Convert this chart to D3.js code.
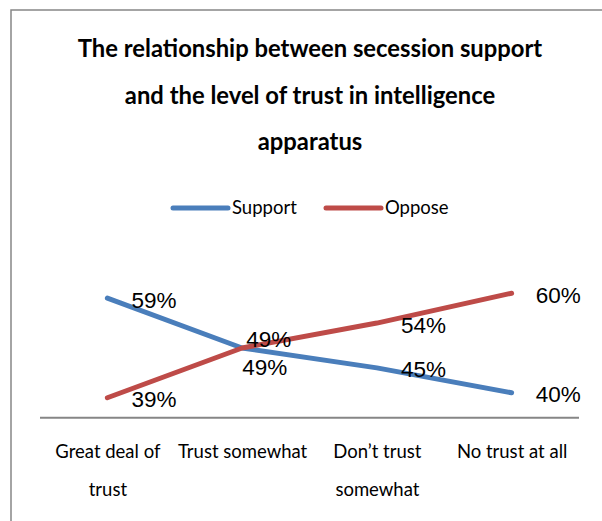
<!DOCTYPE html>
<html>
<head>
<meta charset="utf-8">
<script src="https://cdn.jsdelivr.net/npm/d3@7"></script>
<style>
  html, body { margin: 0; padding: 0; background: #fff; }
  svg { display: block; }
</style>
</head>
<body>
<svg id="chart" width="602" height="521"></svg>
<script>
// Secession support vs. trust in the intelligence apparatus
const categories = [
  ["Great deal of", "trust"],
  ["Trust somewhat"],
  ["Don\u2019t trust", "somewhat"],
  ["No trust at all"]
];
const seriesNames = ["Support", "Oppose"];
const supportValues = [59, 49, 45, 40];
const opposeValues = [39, 49, 54, 60];
const titleLines = [
  "The relationship between secession support",
  "and the level of trust in intelligence",
  "apparatus"
];

const W = 602, H = 521;
const colors = { Support: "#4A7EBB", Oppose: "#BE4B48" };
const labelFont = "'Liberation Sans', Arial, sans-serif";
const textFont = "Lato, 'Open Sans', sans-serif";

// where each data label sits relative to its point
const labelPlacement = {
  Support: ["right", "below", "right", "right"],
  Oppose: ["right", "above", "right", "right"]
};

const svg = d3.select("#chart");

// chart frame (runs past the right and bottom edges)
svg.append("rect")
  .attr("x", 11).attr("y", 10)
  .attr("width", 620).attr("height", 540)
  .attr("fill", "none")
  .attr("stroke", "#878787")
  .attr("stroke-width", 1.5);

// title
svg.append("g").selectAll("text")
  .data(titleLines)
  .join("text")
  .attr("x", 310)
  .attr("y", (d, i) => 57 + i * 46.5)
  .attr("text-anchor", "middle")
  .attr("font-family", textFont)
  .attr("font-weight", "bold")
  .attr("font-size", 23.8)
  .attr("fill", "#000")
  .text(d => d);

// scales
const catKeys = categories.map(c => c.join(" "));
const x = d3.scalePoint().domain(catKeys).range([40, 579]).padding(0.5);
const y = d3.scaleLinear().domain([35, 65]).range([417.7, 268.3]);

// legend
const legend = svg.append("g");
const legendX = [173, 326];
seriesNames.forEach((name, i) => {
  const g = legend.append("g").attr("transform", `translate(${legendX[i]},208)`);
  g.append("line")
    .attr("x1", 0).attr("x2", 55).attr("y1", 0).attr("y2", 0)
    .attr("stroke", colors[name]).attr("stroke-width", 5)
    .attr("stroke-linecap", "round");
  g.append("text")
    .attr("x", 59).attr("y", 6)
    .attr("font-family", textFont)
    .attr("font-size", 18.5)
    .attr("fill", "#000")
    .text(name);
});

// category axis
const xAxis = d3.axisBottom(x).tickSize(0).tickFormat("");
const axisG = svg.append("g")
  .attr("transform", `translate(0,${y(35)})`)
  .call(xAxis);
axisG.select(".domain").remove();
axisG.append("line")
  .attr("x1", 40).attr("x2", 579)
  .attr("stroke", "#868686").attr("stroke-width", 2);

axisG.selectAll(".tick").each(function(d, i) {
  const t = d3.select(this).append("text")
    .attr("text-anchor", "middle")
    .attr("font-family", textFont)
    .attr("font-size", 18.5)
    .attr("fill", "#000");
  categories[i].forEach((line, j) => {
    t.append("tspan").attr("x", 0).attr("y", 40 + j * 38).text(line);
  });
});

// lines
const line = d3.line()
  .x((d, i) => x(catKeys[i]))
  .y(d => y(d));

const series = [
  { name: "Support", values: supportValues },
  { name: "Oppose", values: opposeValues }
];

svg.append("g").selectAll("path")
  .data(series)
  .join("path")
  .attr("d", s => line(s.values))
  .attr("fill", "none")
  .attr("stroke", s => colors[s.name])
  .attr("stroke-width", 5)
  .attr("stroke-linecap", "round")
  .attr("stroke-linejoin", "round");

// data labels
const offsets = {
  right: [24, 2],
  above: [4, -8],
  below: [0, 20]
};
series.forEach(s => {
  svg.append("g").selectAll("text")
    .data(s.values)
    .join("text")
    .attr("x", (d, i) => x(catKeys[i]) + offsets[labelPlacement[s.name][i]][0])
    .attr("y", (d, i) => y(d) + offsets[labelPlacement[s.name][i]][1])
    .attr("dominant-baseline", "central")
    .attr("font-family", labelFont)
    .attr("font-size", 22.5)
    .attr("fill", "#000")
    .text(d => d + "%");
});
</script>
</body>
</html>
